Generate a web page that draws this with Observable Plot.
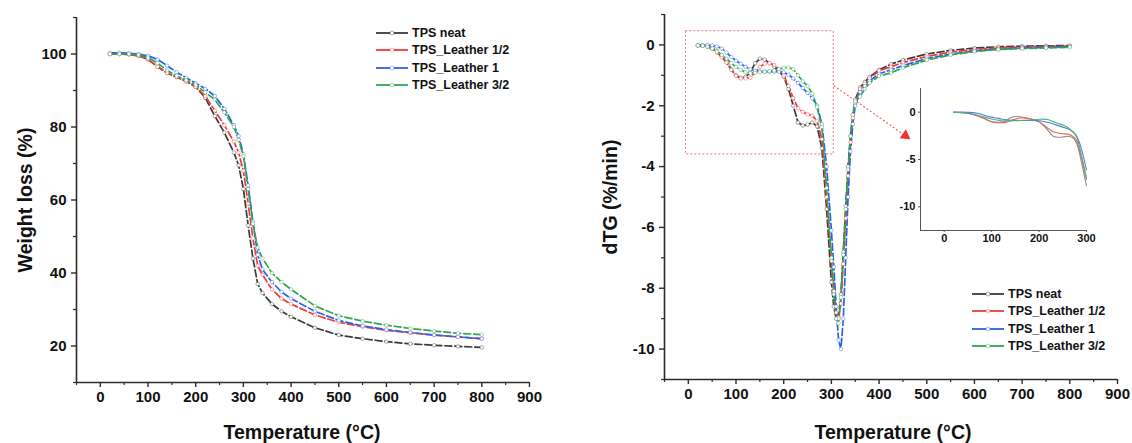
<!DOCTYPE html>
<html><head><meta charset="utf-8">
<script src="https://cdn.jsdelivr.net/npm/d3@7"></script>
<script src="https://cdn.jsdelivr.net/npm/@observablehq/plot@0.6"></script>
<style>
body{margin:0;background:#fff;font-family:"Liberation Sans",Arial,sans-serif;}
#wrap{position:relative;width:1132px;height:443px;overflow:hidden;background:#fff;}
.abs{position:absolute;}
.atitle{position:absolute;font-weight:bold;font-size:19.5px;color:#111;white-space:nowrap;transform:translate(-50%,-50%);}
.atitle.rot{transform:translate(-50%,-50%) rotate(-90deg);}
.lg{position:absolute;font-weight:bold;font-size:12.5px;color:#111;white-space:nowrap;display:flex;align-items:center;height:16px;}
.lg svg{margin-right:4px;}
</style></head><body><div id="wrap"></div><script>
// ---------- data ----------
const SERIES = ["TPS neat", "TPS_Leather 1/2", "TPS_Leather 1", "TPS_Leather 3/2"];
const COLORS = ["#3a3a3a", "#f23a3a", "#2a62e6", "#2fa552"];
const INSET_COLORS = ["#8c8c8c", "#f06262", "#4d7fe8", "#4cb36a"];

// TGA (weight %)
const T_TGA = [20,40,60,80,100,120,140,160,180,200,220,240,260,280,290,300,310,320,330,340,360,380,400,450,500,550,600,650,700,750,800];
const TGA_NEAT = [100,100,99.9,99.5,98.5,96.5,94.8,93.7,92.5,91,88,83,78.5,73,69.5,63,53,44,37,34.5,31.5,29.5,28,25,23,22,21.2,20.6,20.2,19.9,19.6];
const TGA_L12  = [100,100,99.9,99.5,98.7,96.5,94.8,93.7,92.5,91,88.5,84.5,80.5,76,73,68,59,49.5,42,39.5,35.5,33,31.5,28.5,26.5,25.3,24.3,23.6,23,22.5,22];
const TGA_L1   = [100.3,100.3,100.2,100,99.5,98.5,96.8,95,93.5,92,90.5,88.5,85,80.5,77.5,72.5,64,54,45,41,37.5,34.8,33,29.5,27,25.5,24.5,23.7,23,22.5,22];
const TGA_L32  = [100,100,100,99.8,99,97.5,95.5,94,92.8,91.5,89.5,87.5,84,80,76.5,72,63,53.5,47,44,40,37.5,35.5,31,28.3,26.8,25.7,24.8,24.1,23.5,23.1];

// dTG (%/min)
const T_DTG = [20,30,40,50,60,70,80,90,100,110,120,130,140,150,160,170,180,190,200,210,220,230,240,250,260,270,280,290,300,305,310,315,320,325,330,335,340,345,350,360,370,380,400,425,450,500,550,600,650,700,750,800];
const DTG_NEAT = [-0.02,-0.03,-0.05,-0.1,-0.2,-0.35,-0.55,-0.8,-1.0,-1.08,-1.05,-0.9,-0.6,-0.45,-0.48,-0.6,-0.72,-0.85,-1.05,-1.45,-2.0,-2.55,-2.65,-2.62,-2.55,-2.68,-3.4,
  -5.4,-7.8,-8.6,-9.0,-8.95,-8.2,-6.8,-5.3,-4.0,-3.0,-2.3,-1.8, -1.4,-1.22,-1.05, -0.82,-0.63,-0.5,-0.3,-0.18,-0.1,-0.06,-0.04,-0.03,-0.02];
const DTG_L12 = [-0.02,-0.03,-0.05,-0.12,-0.25,-0.4,-0.58,-0.82,-1.02,-1.1,-1.1,-1.08,-0.9,-0.72,-0.62,-0.6,-0.66,-0.8,-1.0,-1.35,-1.75,-2.08,-2.2,-2.28,-2.32,-2.5,-3.1,
  -5.0,-7.1,-8.1,-8.8,-9.0,-8.5,-7.2,-5.7,-4.3,-3.2,-2.4,-1.9, -1.45,-1.28,-1.1, -0.85,-0.72,-0.58,-0.38,-0.24,-0.15,-0.1,-0.07,-0.05,-0.04];
const DTG_L1 = [0,0,0,-0.02,-0.05,-0.12,-0.25,-0.4,-0.52,-0.62,-0.72,-0.8,-0.85,-0.87,-0.88,-0.88,-0.88,-0.88,-0.9,-0.98,-1.1,-1.25,-1.42,-1.58,-1.75,-2.0,-2.6,
  -4.0,-6.1,-7.3,-8.6,-9.7,-10.0,-9.0,-7.0,-5.0,-3.5,-2.6,-2.0, -1.55,-1.35,-1.18, -0.95,-0.82,-0.68,-0.45,-0.3,-0.2,-0.14,-0.1,-0.08,-0.06];
const DTG_L32 = [-0.02,-0.03,-0.06,-0.12,-0.22,-0.33,-0.45,-0.6,-0.72,-0.82,-0.9,-0.93,-0.92,-0.9,-0.88,-0.86,-0.84,-0.8,-0.75,-0.74,-0.8,-1.0,-1.2,-1.35,-1.6,-2.05,-2.7,
  -4.7,-7.0,-8.2,-9.0,-9.15,-8.3,-6.9,-5.4,-4.1,-3.0,-2.3,-1.85, -1.7,-1.45,-1.25, -1.02,-0.92,-0.75,-0.5,-0.33,-0.22,-0.15,-0.12,-0.1,-0.08];

// ticks
const X_MAJOR = [0,100,200,300,400,500,600,700,800,900];
const X_MINOR = [-50,50,150,250,350,450,550,650,750,850];
const YL_MAJOR = [20,40,60,80,100];
const YL_MINOR = [10,30,50,70,90,110];
const YR_MAJOR = [0,-2,-4,-6,-8,-10];
const YR_MINOR = [1,-1,-3,-5,-7,-9,-11];
const INSET_X = [0,100,200,300];
const INSET_Y = [0,-5,-10];

// annotation (data coordinates of the zoom box and arrow)
const ZOOM_BOX = [{x1:-5, x2:305, y1:-3.6, y2:0.45}];
const ARROW = [{x1:305, y1:-1.34, x2:452, y2:-2.95}];
const ARROW_TIP = [{x:455, y:-2.98}];

// ---------- tables ----------
const TGA_VALUES = [TGA_NEAT, TGA_L12, TGA_L1, TGA_L32];
const DTG_VALUES = [DTG_NEAT, DTG_L12, DTG_L1, DTG_L32];
const tga = SERIES.flatMap((s,k) => T_TGA.map((t,i) => ({t, v: TGA_VALUES[k][i], s})));
const dtg = SERIES.flatMap((s,k) => T_DTG.map((t,i) => ({t, v: DTG_VALUES[k][i], s})));
const inset = dtg.filter(d => d.t <= 300);

const FONT = '"Liberation Sans", Arial, sans-serif';
const AX = "#2b2b2b";
const fmt = d => String(d);

function axes(xMajor, xMinor, yMajor, yMinor, x0, y0) {
  return [
    Plot.axisX({ticks: xMajor, tickSize: 5, tickPadding: 4, label: null, tickFormat: fmt, stroke: AX, strokeWidth: 1.4, fill: "#111"}),
    Plot.axisX({ticks: xMinor, tickSize: 3, text: null, label: null, stroke: AX, strokeWidth: 1.2}),
    Plot.axisY({ticks: yMajor, tickSize: 5, tickPadding: 5, label: null, tickFormat: fmt, stroke: AX, strokeWidth: 1.4, fill: "#111"}),
    Plot.axisY({ticks: yMinor, tickSize: 3, text: null, label: null, stroke: AX, strokeWidth: 1.2}),
    Plot.ruleX([x0], {stroke: AX, strokeWidth: 1.6}),
    Plot.ruleY([y0], {stroke: AX, strokeWidth: 1.6})
  ];
}

const wrap = document.getElementById("wrap");
function place(el, left, top) {
  el.classList.add("abs");
  el.style.left = left + "px"; el.style.top = top + "px";
  wrap.appendChild(el);
}

// ---------- left: TGA ----------
const left = Plot.plot({
  width: 560, height: 443,
  marginLeft: 76, marginRight: 31, marginTop: 17, marginBottom: 61,
  x: {domain: [-50, 900]},
  y: {domain: [10, 110]},
  color: {domain: SERIES, range: COLORS},
  style: {fontFamily: FONT, fontSize: "15px", fontWeight: "bold", background: "transparent", color: "#111", overflow: "visible"},
  marks: [
    ...axes(X_MAJOR, X_MINOR, YL_MAJOR, YL_MINOR, -50, 10),
    Plot.line(tga, {x: "t", y: "v", stroke: "s", strokeWidth: 1.7, strokeDasharray: "7,3"}),
    Plot.dot(tga, {x: "t", y: "v", stroke: "s", r: 1.8, fill: "white", strokeWidth: 0.7, strokeOpacity: 0.6})
  ]
});
place(left, 0, 0);

// ---------- right: dTG ----------
const right = Plot.plot({
  width: 572, height: 443,
  marginLeft: 104, marginRight: 15, marginTop: 14, marginBottom: 64,
  x: {domain: [-50, 900]},
  y: {domain: [-11, 1]},
  color: {domain: SERIES, range: COLORS},
  style: {fontFamily: FONT, fontSize: "15px", fontWeight: "bold", background: "transparent", color: "#111", overflow: "visible"},
  marks: [
    ...axes(X_MAJOR, X_MINOR, YR_MAJOR, YR_MINOR, -50, -11),
    Plot.rect(ZOOM_BOX, {x1: "x1", x2: "x2", y1: "y1", y2: "y2", fill: "none", stroke: "#f07070", strokeWidth: 1, strokeDasharray: "2,2"}),
    Plot.link(ARROW, {x1: "x1", y1: "y1", x2: "x2", y2: "y2", stroke: "#f06060", strokeWidth: 1.1, strokeDasharray: "2,2"}),
    Plot.dot(ARROW_TIP, {x: "x", y: "y", symbol: "triangle", r: 4, fill: "#f03030", rotate: 125}),
    Plot.line(dtg, {x: "t", y: "v", stroke: "s", strokeWidth: 1.7, strokeDasharray: "7,3"}),
    Plot.dot(dtg, {x: "t", y: "v", stroke: "s", r: 1.8, fill: "white", strokeWidth: 0.7, strokeOpacity: 0.6})
  ]
});
place(right, 560, 0);

// ---------- inset ----------
const ins = Plot.plot({
  width: 220, height: 172,
  marginLeft: 40, marginRight: 14, marginTop: 10, marginBottom: 20,
  x: {domain: [-50, 300]},
  y: {domain: [-12.5, 2.5]},
  color: {domain: SERIES, range: INSET_COLORS},
  style: {fontFamily: FONT, fontSize: "11px", fontWeight: "bold", background: "transparent", color: "#111", overflow: "visible"},
  marks: [
    Plot.axisX({ticks: INSET_X, tickSize: 2, tickPadding: 2, label: null, tickFormat: fmt, stroke: "#555"}),
    Plot.axisY({ticks: INSET_Y, tickSize: 2, tickPadding: 3, label: null, tickFormat: fmt, stroke: "#555"}),
    Plot.ruleX([-50], {stroke: "#555", strokeWidth: 1}),
    Plot.ruleY([-12.5], {stroke: "#555", strokeWidth: 1}),
    Plot.line(inset, {x: "t", y: "v", stroke: "s", strokeWidth: 1.1, curve: "monotone-x"})
  ]
});
place(ins, 880, 78);

// ---------- axis titles ----------
function title(text, x, y, rot) {
  const d = document.createElement("div");
  d.className = "atitle" + (rot ? " rot" : "");
  d.textContent = text;
  d.style.left = x + "px"; d.style.top = y + "px";
  wrap.appendChild(d);
}
title("Weight loss (%)", 25, 200, true);
title("Temperature (°C)", 302, 432, false);
title("dTG (%/min)", 610, 197, true);
title("Temperature (°C)", 893, 432, false);

// ---------- legends ----------
function legend(x, y, step) {
  SERIES.forEach((s, i) => {
    const row = document.createElement("div");
    row.className = "lg";
    row.style.left = x + "px"; row.style.top = (y + i * step) + "px";
    row.innerHTML = `<svg width="32" height="10"><line x1="0" y1="5" x2="32" y2="5" stroke="${COLORS[i]}" stroke-width="1.8"/><circle cx="16" cy="5" r="2" fill="white" stroke="${COLORS[i]}" stroke-width="0.7" stroke-opacity="0.6"/></svg><span>${s}</span>`;
    wrap.appendChild(row);
  });
}
legend(376, 25, 17.3);
legend(972, 286, 17.3);
</script></body></html>
